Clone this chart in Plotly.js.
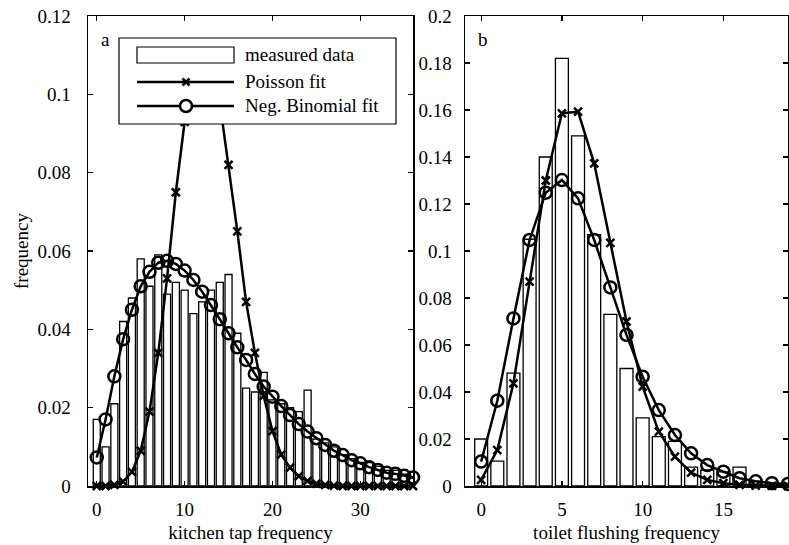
<!DOCTYPE html>
<html>
<head>
<meta charset="utf-8">
<script src="https://cdn.plot.ly/plotly-3.0.1.min.js"></script>
<style>html,body{margin:0;padding:0;background:#fff}#chart{width:789px;height:545px}</style>
</head>
<body>
<div id="chart"></div>
<script>
// ---- Panel a: kitchen tap frequency ----
const kitchenX = [0,1,2,3,4,5,6,7,8,9,10,11,12,13,14,15,16,17,18,19,20,21,22,23,24,25,26,27,28,29,30,31,32,33,34,35,36];
const kitchenMeasured = [0.017,0.010,0.021,0.042,0.048,0.058,0.051,0.059,0.049,0.052,0.050,0.044,0.047,0.050,0.052,0.054,0.039,0.025,0.024,0.029,0.022,0.021,0.020,0.019,0.0245,0.012,0.011,0.010,0.008,0.007,0.006,0.006,0.005,0.004,0.004,0.003,0.002];
const kitchenPoisson = [0,0,0.0003,0.0011,0.0036,0.009,0.019,0.034,0.053,0.075,0.093,0.107,0.113,0.110,0.098,0.082,0.065,0.047,0.034,0.023,0.014,0.008,0.0047,0.0025,0.0013,0.0006,0.0003,0.0001,0,0,0,0,0,0,0,0,0];
const kitchenNegBin = [0.0073,0.017,0.028,0.0375,0.045,0.051,0.0547,0.057,0.0575,0.0567,0.055,0.0526,0.0496,0.0462,0.0426,0.039,0.0354,0.0322,0.0286,0.0254,0.0228,0.0204,0.0181,0.0158,0.0139,0.0122,0.0105,0.009,0.0079,0.0066,0.0058,0.0048,0.0041,0.0034,0.0031,0.0026,0.0022];

// ---- Panel b: toilet flushing frequency ----
const toiletX = [0,1,2,3,4,5,6,7,8,9,10,11,12,13,14,15,16,17,18,19];
const toiletMeasured = [0.020,0.0106,0.048,0.105,0.140,0.182,0.149,0.107,0.073,0.050,0.029,0.021,0.019,0.008,0.0068,0.006,0.008,0.002,0.001,0];
const toiletPoisson = [0.0026,0.0153,0.0437,0.087,0.130,0.1586,0.1593,0.1373,0.1035,0.070,0.0423,0.0231,0.0125,0.0057,0.0026,0.0012,0.0005,0.0002,0.0001,0];
const toiletNegBin = [0.0104,0.0363,0.0713,0.1047,0.1248,0.1302,0.1224,0.1047,0.0845,0.0643,0.0465,0.0323,0.0217,0.0139,0.0089,0.0061,0.0033,0.002,0.0012,0.0009];

// ---- Tick labels and texts ----
const xTicksA = [0,10,20,30];
const xTicksB = [0,5,10,15];
const yTicksA = [0,0.02,0.04,0.06,0.08,0.1,0.12];
const yTickTextA = ["0","0.02","0.04","0.06","0.08","0.1","0.12"];
const yTicksB = [0,0.02,0.04,0.06,0.08,0.1,0.12,0.14,0.16,0.18,0.2];
const yTickTextB = ["0","0.02","0.04","0.06","0.08","0.1","0.12","0.14","0.16","0.18","0.2"];
const legendNames = ["measured data","Poisson fit","Neg. Binomial fit"];
const panelLabels = ["a","b"];
const xTitles = ["kitchen tap frequency","toilet flushing frequency"];
const yTitle = "frequency";

const FONT = {family: "Liberation Serif, Times New Roman, serif", size: 19, color: "#000"};

function barTrace(x, y, xa, ya) {
  return {type: "bar", x: x, y: y, xaxis: xa, yaxis: ya, width: 0.8,
    marker: {color: "#fff", line: {color: "#000", width: 1.3}}, showlegend: false, hoverinfo: "skip"};
}
function lineTrace(x, y, xa, ya, sym) {
  const m = sym === "o"
    ? {symbol: "circle-open", size: 12, color: "#000", line: {width: 2.5, color: "#000"}}
    : {symbol: "x-thin-open", size: 8, color: "#000", line: {width: 2.5, color: "#000"}};
  return {type: "scatter", mode: "lines+markers", x: x, y: y, xaxis: xa, yaxis: ya,
    line: {color: "#000", width: 2.5}, marker: m, cliponaxis: false, showlegend: false, hoverinfo: "skip"};
}

const data = [
  barTrace(kitchenX, kitchenMeasured, "x", "y"),
  lineTrace(kitchenX, kitchenPoisson, "x", "y", "x"),
  lineTrace(kitchenX, kitchenNegBin, "x", "y", "o"),
  barTrace(toiletX, toiletMeasured, "x2", "y2"),
  lineTrace(toiletX, toiletPoisson, "x2", "y2", "x"),
  lineTrace(toiletX, toiletNegBin, "x2", "y2", "o")
];

// pixel -> paper helpers (plot area spans x 88..788, y 16..486)
const L = 88, W = 700, T = 16, H = 470;
const PX = p => (p - L) / W;
const PY = p => 1 - (p - T) / H;

const axisCommon = {showline: true, linecolor: "#000", linewidth: 1.5, mirror: "ticks",
  ticks: "inside", ticklen: 5, tickwidth: 1.2, tickcolor: "#000", showgrid: false, zeroline: false,
  tickfont: FONT, fixedrange: true};

const shapes = [
  // legend frame
  {type: "rect", xref: "paper", yref: "paper", x0: PX(119), x1: PX(396), y0: PY(124), y1: PY(38),
   fillcolor: "#fff", line: {color: "#000", width: 1.2}, layer: "above"},
  // measured data symbol
  {type: "rect", xref: "paper", yref: "paper", x0: PX(137), x1: PX(234), y0: PY(63), y1: PY(47),
   fillcolor: "#fff", line: {color: "#000", width: 1.2}, layer: "above"},
  // Poisson symbol
  {type: "line", xref: "paper", yref: "paper", x0: PX(137), x1: PX(234), y0: PY(82), y1: PY(82),
   line: {color: "#000", width: 2.5}, layer: "above"},
  {type: "line", xref: "paper", yref: "paper", x0: PX(182.5), x1: PX(189.5), y0: PY(78.5), y1: PY(85.5),
   line: {color: "#000", width: 2.5}, layer: "above"},
  {type: "line", xref: "paper", yref: "paper", x0: PX(182.5), x1: PX(189.5), y0: PY(85.5), y1: PY(78.5),
   line: {color: "#000", width: 2.5}, layer: "above"},
  // Neg binomial symbol
  {type: "line", xref: "paper", yref: "paper", x0: PX(137), x1: PX(234), y0: PY(106), y1: PY(106),
   line: {color: "#000", width: 2.5}, layer: "above"},
  {type: "circle", xref: "paper", yref: "paper", x0: PX(180), x1: PX(192), y0: PY(112), y1: PY(100),
   fillcolor: "#fff", line: {color: "#000", width: 2.5}, layer: "above"}
];

const annotations = [
  {xref: "paper", yref: "paper", x: PX(243), y: PY(55), xanchor: "left", yanchor: "middle", text: legendNames[0], showarrow: false, font: FONT},
  {xref: "paper", yref: "paper", x: PX(243), y: PY(82), xanchor: "left", yanchor: "middle", text: legendNames[1], showarrow: false, font: FONT},
  {xref: "paper", yref: "paper", x: PX(243), y: PY(106), xanchor: "left", yanchor: "middle", text: legendNames[2], showarrow: false, font: FONT},
  {xref: "paper", yref: "paper", x: PX(99), y: PY(40), xanchor: "left", yanchor: "middle", text: panelLabels[0], showarrow: false, font: FONT},
  {xref: "paper", yref: "paper", x: PX(476), y: PY(40), xanchor: "left", yanchor: "middle", text: panelLabels[1], showarrow: false, font: FONT}
];

const layout = {
  width: 789, height: 545,
  margin: {l: L, r: 789 - L - W, t: T, b: 545 - T - H, pad: 0},
  paper_bgcolor: "#fff", plot_bgcolor: "#fff",
  font: FONT, showlegend: false, barmode: "overlay",
  xaxis: Object.assign({}, axisCommon, {domain: [0, PX(413)], range: [-1, 36], tickvals: xTicksA,
    ticklabelstandoff: 6, anchor: "y", title: {text: xTitles[0], font: FONT, standoff: 6}}),
  yaxis: Object.assign({}, axisCommon, {domain: [0, 1], range: [0, 0.12], tickvals: yTicksA, ticktext: yTickTextA,
    ticklabelstandoff: 12, anchor: "x", title: {text: yTitle, font: FONT, standoff: 4}}),
  xaxis2: Object.assign({}, axisCommon, {domain: [PX(465), 1], range: [-1, 19], tickvals: xTicksB,
    ticklabelstandoff: 6, anchor: "y2", title: {text: xTitles[1], font: FONT, standoff: 6}}),
  yaxis2: Object.assign({}, axisCommon, {domain: [0, 1], range: [0, 0.2], tickvals: yTicksB, ticktext: yTickTextB,
    ticklabelstandoff: 8, anchor: "x2"}),
  shapes: shapes,
  annotations: annotations
};

Plotly.newPlot("chart", data, layout, {displayModeBar: false, staticPlot: true});
</script>
</body>
</html>
